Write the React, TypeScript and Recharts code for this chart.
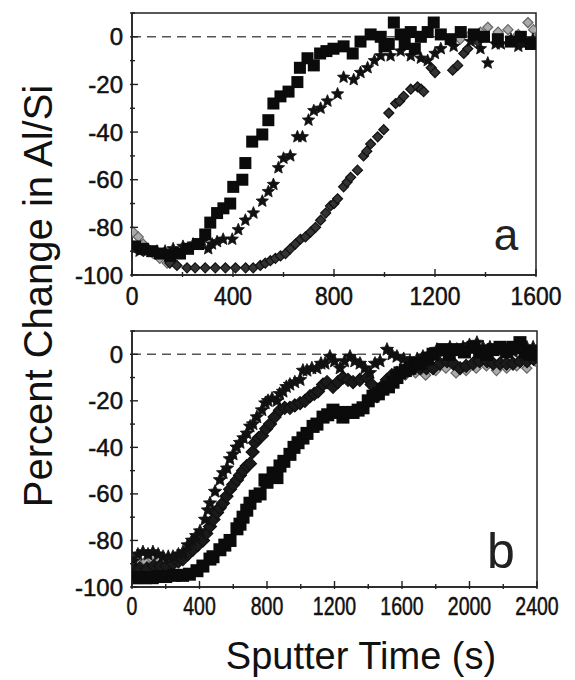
import {
  ReferenceArea,
  ReferenceLine,
  Scatter,
  ScatterChart,
  XAxis,
  YAxis,
} from "recharts";

const FONT = "'Liberation Sans', Arial, Helvetica, sans-serif";

// Panel a: [sputter time (s), percent change]
const aSquares: [number, number][] = [
  [12, -88], [44, -89], [80, -90], [111, -91], [151, -92], [190, -91], [222, -89],
  [262, -87], [290, -83], [310, -78], [337, -74], [362, -72], [389, -70], [401, -63],
  [437, -60], [449, -53], [476, -44], [516, -41], [540, -35], [560, -28], [588, -25],
  [620, -23], [655, -19], [665, -13], [695, -9], [720, -12], [745, -7], [770, -6],
  [798, -5], [838, -4], [874, -7], [905, -2], [945, 1], [985, 0], [1000, -4],
  [1017, -3], [1037, 6], [1064, 1], [1080, -3], [1104, 2], [1120, -5], [1144, 0],
  [1171, 2], [1195, 6], [1223, 1], [1262, -1], [1302, 2], [1354, 1], [1394, 0],
  [1449, -1], [1501, -2], [1540, 0], [1580, -3],
];
const aStars: [number, number][] = [
  [5, -89], [30, -90], [60, -90], [99, -90], [131, -90], [163, -89], [202, -88],
  [242, -87], [278, -86], [302, -89], [317, -87], [337, -86], [361, -85], [397, -85],
  [421, -81], [449, -77], [481, -74], [516, -69], [540, -65], [560, -62], [580, -55],
  [600, -51], [627, -50], [655, -42], [675, -42], [699, -35], [720, -31], [747, -30],
  [774, -27], [814, -24], [838, -17], [878, -18], [905, -15], [933, -13], [960, -10],
  [985, -8], [1024, -8], [1064, -6], [1104, -8], [1144, -9], [1171, -10], [1200, -7],
  [1223, -5], [1274, -4], [1342, -2], [1380, -5], [1409, -11], [1440, -3], [1461, -3],
  [1501, -1], [1530, -4], [1552, -3], [1588, -1],
];
const aDiamonds: [number, number][] = [
  [150, -95], [178, -96], [218, -97], [250, -97], [290, -97], [330, -97], [370, -97],
  [410, -97], [450, -97], [480, -97], [508, -96], [528, -95], [548, -94], [568, -93],
  [588, -92], [608, -91], [627, -89], [647, -87], [667, -85], [687, -84], [707, -82],
  [727, -80], [747, -77], [767, -74], [786, -71], [800, -70], [814, -68], [838, -63],
  [852, -61], [866, -59], [893, -56], [917, -50], [930, -48], [945, -45], [973, -42],
  [997, -39], [1017, -32], [1044, -28], [1060, -27], [1076, -25], [1104, -22],
  [1131, -21], [1145, -22], [1155, -23], [1185, -13], [1200, -15], [1270, -14],
  [1290, -12], [1314, -7], [1330, -5], [1370, -2],
];
const aGray: [number, number][] = [
  [5, -82], [25, -84], [44, -87], [64, -89], [84, -91], [110, -93], [139, -95],
  [1300, -1], [1340, 1], [1380, 2], [1409, 4], [1450, 2], [1489, 3], [1530, 1],
  [1568, 6], [1590, 3],
];

// Panel b
const bSquares: [number, number][] = [
  [6, -96], [40, -96], [80, -96], [120, -96], [160, -95.5], [200, -95.5], [250, -95],
  [300, -95], [340, -94.5], [385, -93], [420, -91], [462, -88], [480, -87], [521, -84],
  [550, -82], [581, -80], [622, -75], [640, -73], [658, -70], [680, -67], [699, -64],
  [730, -61], [759, -60], [788, -54], [800, -55], [836, -51], [859, -53], [877, -48],
  [900, -46], [936, -43], [960, -40], [984, -38], [1013, -36], [1037, -34], [1073, -31],
  [1096, -30], [1132, -27], [1160, -26], [1191, -24], [1220, -25], [1250, -27],
  [1280, -25], [1310, -25], [1340, -24], [1369, -23], [1400, -20], [1428, -18],
  [1460, -17], [1487, -15], [1520, -14], [1547, -12], [1570, -10], [1588, -8],
  [1620, -7], [1647, -6], [1680, -4], [1707, -4], [1750, -2], [1784, 0], [1843, 2],
  [1880, 0], [1926, 2], [1970, 1], [2021, 3], [2060, 1], [2104, 0], [2140, 2],
  [2181, 3], [2220, 1], [2258, 3], [2299, 5], [2330, 1], [2359, 0], [2390, 1],
];
const bStars: [number, number][] = [
  [6, -89], [35, -86], [65, -85], [95, -86], [124, -85], [155, -86], [184, -87],
  [215, -87], [243, -87], [275, -86], [302, -85], [330, -82], [355, -80], [380, -78],
  [403, -76], [433, -71], [450, -67], [462, -64], [492, -59], [521, -54], [540, -51],
  [563, -49], [580, -45], [599, -43], [620, -40], [640, -38], [660, -36], [681, -34],
  [700, -31], [717, -30], [740, -27], [770, -24], [790, -21], [806, -20], [830, -19],
  [859, -20], [875, -17], [895, -16], [915, -14], [936, -13], [965, -12], [996, -11],
  [1013, -7], [1037, -7], [1066, -6], [1096, -6], [1120, -4], [1144, -4], [1173, -1],
  [1200, -3], [1233, -6], [1260, -3], [1292, -1], [1320, -3], [1351, -4], [1380, -6],
  [1410, -8], [1440, -4], [1470, -3], [1511, 2], [1540, 0], [1570, -1], [1610, -2],
  [1647, -3], [1690, -2], [1724, -1], [1765, 0], [1807, 2], [1845, 1], [1884, 3],
  [1925, 2], [1962, 3], [2000, 4], [2044, 5], [2080, 3], [2121, 3], [2170, 2],
  [2222, 2], [2260, 1], [2299, 2], [2340, 3], [2377, 3],
];
const bDiamonds: [number, number][] = [
  [6, -91], [45, -92], [89, -92], [130, -91], [166, -91], [205, -91], [243, -90],
  [275, -89], [302, -88], [330, -86], [361, -84], [390, -82], [421, -80], [440, -77],
  [462, -74], [483, -71], [504, -68], [520, -66], [539, -64], [560, -61], [581, -58],
  [600, -56], [622, -54], [640, -52], [658, -50], [680, -48], [699, -47], [715, -42],
  [729, -38], [750, -36], [770, -35], [795, -32], [818, -30], [845, -27], [877, -24],
  [905, -23], [936, -23], [965, -22], [996, -21], [1025, -20], [1055, -18], [1080, -17],
  [1102, -16], [1132, -13], [1156, -12], [1191, -14], [1220, -12], [1250, -10],
  [1280, -11], [1310, -12], [1350, -11], [1393, -10], [1420, -13], [1452, -18],
  [1480, -14], [1511, -11], [1540, -9], [1570, -8], [1600, -8], [1630, -7], [1670, -6],
  [1707, -6], [1745, -6], [1784, -6], [1825, -4], [1867, -3], [1905, -4], [1944, -6],
  [1980, -5], [2021, -4], [2060, -3], [2104, -3], [2140, -4], [2181, -4], [2220, -4],
  [2258, -4], [2300, -3], [2341, -3], [2380, -2], [2400, -1],
];
const bGray: [number, number][] = [
  [6, -88], [40, -90], [80, -89], [120, -88], [160, -89], [200, -90], [240, -89],
  [280, -88], [320, -86], [1500, -12], [1560, -10], [1620, -9], [1680, -8], [1740, -9],
  [1800, -7], [1860, -6], [1920, -8], [1980, -7], [2040, -6], [2100, -5], [2160, -7],
  [2220, -6], [2280, -5], [2340, -6], [2390, -3],
];

const yTicks = [-100, -90, -80, -70, -60, -50, -40, -30, -20, -10, 0, 10];
const aXTicks = [0, 200, 400, 600, 800, 1000, 1200, 1400, 1600];
const bXTicks = [0, 200, 400, 600, 800, 1000, 1200, 1400, 1600, 1800, 2000, 2200, 2400];

const toPts = (arr: [number, number][]) => arr.map(([t, v]) => ({ t, v }));

function starPath(cx: number, cy: number, ro: number, ri: number) {
  let d = "";
  for (let i = 0; i < 10; i++) {
    const r = i % 2 === 0 ? ro : ri;
    const a = -Math.PI / 2 + (i * Math.PI) / 5;
    d += (i === 0 ? "M" : "L") + (cx + r * Math.cos(a)).toFixed(2) + "," + (cy + r * Math.sin(a)).toFixed(2);
  }
  return d + "Z";
}

const squareShape = (s: number) => (p: any) =>
  <rect x={p.cx - s / 2} y={p.cy - s / 2} width={s} height={s} fill="#0b0b0b" />;
const starShape = (r: number) => (p: any) =>
  <path d={starPath(p.cx, p.cy, r, r * 0.45)} fill="#111" stroke="#111" strokeWidth={0.8} />;
const diamondShape = (r: number, fill: string, stroke: string) => (p: any) =>
  <path
    d={`M${p.cx},${p.cy - r}L${p.cx + r},${p.cy}L${p.cx},${p.cy + r}L${p.cx - r},${p.cy}Z`}
    fill={fill}
    stroke={stroke}
    strokeWidth={1.2}
  />;

function YTick({ x, y, payload }: any) {
  const v = payload.value;
  const major = v % 20 === 0;
  return (
    <g>
      <line x1={x} x2={x + (major ? 8 : 5)} y1={y} y2={y} stroke="#222" strokeWidth={1.4} />
      {major && v <= 0 && (
        <text
          x={x - 7}
          y={y}
          dy={8.5}
          textAnchor="end"
          fontSize={24}
          fontFamily={FONT}
          fill="#111"
          stroke="#111"
          strokeWidth={0.5}
        >
          {v}
        </text>
      )}
    </g>
  );
}

const makeXTick = (dy: number, fontSize: number, sx: number) => ({ x, y, payload }: any) => {
  const v = payload.value;
  const major = v % 400 === 0;
  return (
    <g>
      <line x1={x} x2={x} y1={y} y2={y - (major ? 8 : 5)} stroke="#222" strokeWidth={1.4} />
      {major && (
        <text
          transform={`translate(${x},${y + dy}) scale(${sx},1)`}
          textAnchor="middle"
          fontSize={fontSize}
          fontFamily={FONT}
          fill="#111"
          stroke="#111"
          strokeWidth={0.5}
        >
          {v}
        </text>
      )}
    </g>
  );
};

const XTickA = makeXTick(28, 26, 0.88);
const XTickB = makeXTick(26, 25, 0.78);

function Panel({
  xMax,
  xTicks,
  XTick,
  height,
  top,
  right,
  axisH,
  squares,
  stars,
  diamonds,
  gray,
  diamondFill,
  sq,
  st,
  dm,
}: any) {
  return (
    <ScatterChart width={575} height={height} margin={{ top, right, bottom: 0, left: 0 }}>
      <XAxis
        type="number"
        dataKey="t"
        domain={[0, xMax]}
        ticks={xTicks}
        interval={0}
        tickSize={0}
        tickLine={false}
        tick={<XTick />}
        height={axisH}
        axisLine={{ stroke: "#222", strokeWidth: 1.5 }}
        allowDataOverflow
      />
      <YAxis
        type="number"
        dataKey="v"
        domain={[-100, 10]}
        ticks={yTicks}
        interval={0}
        tickSize={0}
        tickLine={false}
        tick={<YTick />}
        width={132}
        axisLine={{ stroke: "#222", strokeWidth: 1.5 }}
        allowDataOverflow
      />
      <ReferenceArea x1={0} x2={xMax} y1={-100} y2={10} fill="none" fillOpacity={0} stroke="#222" strokeWidth={1.5} />
      <ReferenceLine y={0} stroke="#555" strokeWidth={1.5} strokeDasharray="9 6" />
      <Scatter data={toPts(gray)} shape={diamondShape(5, "#aaa", "#666")} isAnimationActive={false} />
      <Scatter data={toPts(diamonds)} shape={diamondShape(dm, diamondFill, "#111")} isAnimationActive={false} />
      <Scatter data={toPts(stars)} shape={starShape(st)} isAnimationActive={false} />
      <Scatter data={toPts(squares)} shape={squareShape(sq)} isAnimationActive={false} />
    </ScatterChart>
  );
}

export default function App() {
  return (
    <div style={{ position: "absolute", left: 0, top: 0, width: 575, height: 680, background: "#fff" }}>
      <div style={{ position: "absolute", left: 0, top: 0 }}>
        <Panel
          xMax={1600}
          xTicks={aXTicks}
          XTick={XTickA}
          height={310}
          top={13}
          right={39}
          axisH={35}
          squares={aSquares}
          stars={aStars}
          diamonds={aDiamonds}
          gray={aGray}
          diamondFill="#333"
          sq={12}
          st={6.5}
          dm={5}
        />
      </div>
      <div style={{ position: "absolute", left: 0, top: 310 }}>
        <Panel
          xMax={2400}
          xTicks={bXTicks}
          XTick={XTickB}
          height={310}
          top={21}
          right={38}
          axisH={33}
          squares={bSquares}
          stars={bStars}
          diamonds={bDiamonds}
          gray={bGray}
          diamondFill="#1a1a1a"
          sq={13}
          st={7}
          dm={6.5}
        />
      </div>
      <svg width={575} height={680} style={{ position: "absolute", left: 0, top: 0, pointerEvents: "none" }}>
        <text
          transform="translate(52,296) rotate(-90)"
          textAnchor="middle"
          fontSize={40}
          fontFamily={FONT}
          fill="#111"
        >
          Percent Change in Al/Si
        </text>
        <text x={361} y={669} textAnchor="middle" fontSize={38} fontFamily={FONT} fill="#111">
          Sputter Time (s)
        </text>
        <text x={506} y={250} textAnchor="middle" fontSize={44} fontFamily={FONT} fill="#222">
          a
        </text>
        <text x={501} y={568} textAnchor="middle" fontSize={50} fontFamily={FONT} fill="#222">
          b
        </text>
      </svg>
    </div>
  );
}
